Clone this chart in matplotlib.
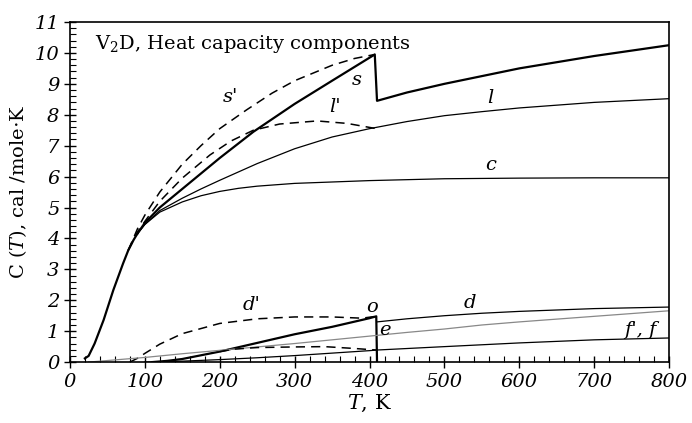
import matplotlib
matplotlib.use('Agg')
import matplotlib.pyplot as plt
from matplotlib.ticker import MultipleLocator

# values (T in K, C in cal/mole K)
T_low = [20, 25, 33, 45, 58, 71, 78, 85, 90]
C_low = [0.12, 0.2, 0.6, 1.36, 2.33, 3.19, 3.62, 3.95, 4.15]

T_c = [90, 100, 120, 150, 175, 200, 225, 250, 300, 400, 500, 600, 700, 800]
C_c = [4.15, 4.45, 4.85, 5.18, 5.38, 5.52, 5.62, 5.69, 5.78, 5.87, 5.93, 5.95, 5.96, 5.96]

T_l = [90, 100, 120, 150, 175, 200, 250, 300, 350, 400, 450, 500, 550, 600, 700, 800]
C_l = [4.15, 4.45, 4.9, 5.3, 5.6, 5.88, 6.42, 6.9, 7.28, 7.55, 7.78, 7.97, 8.1, 8.22, 8.4, 8.52]

T_s = [90, 100, 120, 150, 175, 200, 245, 300, 350, 407, 410, 450, 500, 600, 700, 800]
C_s = [4.15, 4.5, 5.0, 5.6, 6.1, 6.6, 7.45, 8.35, 9.1, 9.95, 8.45, 8.72, 9.0, 9.5, 9.9, 10.25]

T_s2 = [78, 90, 100, 120, 150, 175, 200, 236, 270, 300, 350, 380, 407]
C_s2 = [3.62, 4.3, 4.75, 5.5, 6.4, 7.0, 7.55, 8.16, 8.7, 9.1, 9.6, 9.82, 9.95]

T_l2 = [78, 90, 100, 120, 150, 187, 215, 245, 280, 330, 370, 407]
C_l2 = [3.62, 4.2, 4.55, 5.2, 5.95, 6.7, 7.15, 7.5, 7.7, 7.8, 7.72, 7.56]

T_d2 = [80, 90, 100, 120, 150, 200, 250, 300, 350, 390, 409]
C_d2 = [0.0, 0.12, 0.28, 0.58, 0.92, 1.25, 1.4, 1.46, 1.46, 1.42, 1.48]

T_o = [110, 130, 150, 175, 200, 225, 250, 275, 300, 325, 350, 375, 400, 409, 410]
C_o = [0.0, 0.04, 0.1, 0.22, 0.34, 0.48, 0.62, 0.76, 0.9, 1.02, 1.14, 1.28, 1.42, 1.48, 0.0]

T_d = [410, 450, 500, 550, 600, 700, 800]
C_d = [1.3, 1.4, 1.5, 1.58, 1.64, 1.73, 1.78]

T_e = [25, 50, 100, 150, 200, 250, 300, 350, 400, 450, 500, 550, 600, 700, 800]
C_e = [0.0, 0.05, 0.15, 0.27, 0.38, 0.49, 0.6, 0.72, 0.84, 0.96, 1.07, 1.2, 1.3, 1.48, 1.66]

T_f = [100, 150, 200, 250, 300, 350, 400, 410, 500, 600, 700, 800]
C_f = [0.0, 0.03, 0.08, 0.14, 0.21, 0.29, 0.37, 0.39, 0.5, 0.62, 0.72, 0.78]

T_f2 = [200, 220, 250, 300, 340, 380, 409]
C_f2 = [0.34, 0.42, 0.47, 0.49, 0.5, 0.44, 0.39]

labels = ["s'", "s", "l'", "l", "c", "d'", "o", "e", "d", "f', f"]
label_T = [214, 383, 354, 561, 561, 243, 403, 421, 534, 761]
label_C = [8.58, 9.13, 8.26, 8.53, 6.38, 1.84, 1.79, 1.04, 1.9, 1.04]

plt.rcParams['font.family'] = 'DejaVu Serif'
plt.rcParams['mathtext.fontset'] = 'dejavuserif'
fig = plt.figure(figsize=(6.92, 4.23), dpi=100)
ax = fig.add_axes([0.101, 0.144, 0.866, 0.804])

thick = 1.6
thin = 0.9
dash = (0, (6, 4))
ax.plot(T_low, C_low, color='black', lw=thick)
ax.plot(T_c, C_c, color='black', lw=thin)
ax.plot(T_l, C_l, color='black', lw=thin)
ax.plot(T_s, C_s, color='black', lw=thick)
ax.plot(T_s2, C_s2, color='black', lw=1.1, linestyle=dash)
ax.plot(T_l2, C_l2, color='black', lw=1.1, linestyle=dash)
ax.plot(T_d2, C_d2, color='black', lw=1.1, linestyle=dash)
ax.plot(T_o, C_o, color='black', lw=thick)
ax.plot(T_d, C_d, color='black', lw=thin)
ax.plot(T_e, C_e, color='#888888', lw=thin)
ax.plot(T_f, C_f, color='black', lw=thin)
ax.plot(T_f2, C_f2, color='black', lw=1.1, linestyle=dash)

for txt, x, y in zip(labels, label_T, label_C):
    ax.text(x, y, txt, fontsize=14, style='italic', ha='center', va='center')

ax.text(33, 10.3, 'V$_2$D, Heat capacity components', fontsize=14, va='center')

ax.set_xlim(0, 800)
ax.set_ylim(0, 11)
ax.xaxis.set_major_locator(MultipleLocator(100))
ax.xaxis.set_minor_locator(MultipleLocator(20))
ax.yaxis.set_major_locator(MultipleLocator(1))
ax.yaxis.set_minor_locator(MultipleLocator(0.2))
ax.tick_params(which='major', direction='inout', length=8, width=1, labelsize=14)
ax.tick_params(which='minor', direction='in', length=4, width=0.8)
for lab in ax.get_xticklabels() + ax.get_yticklabels():
    lab.set_fontstyle('italic')
for sp in ax.spines.values():
    sp.set_linewidth(1.2)

ax.set_xlabel('$\\it{T}$, K', fontsize=15, labelpad=2)
ax.set_ylabel('C ($\\it{T}$), cal /mole$\\cdot$K', fontsize=14, labelpad=4)

plt.savefig('out.png', dpi=100)
